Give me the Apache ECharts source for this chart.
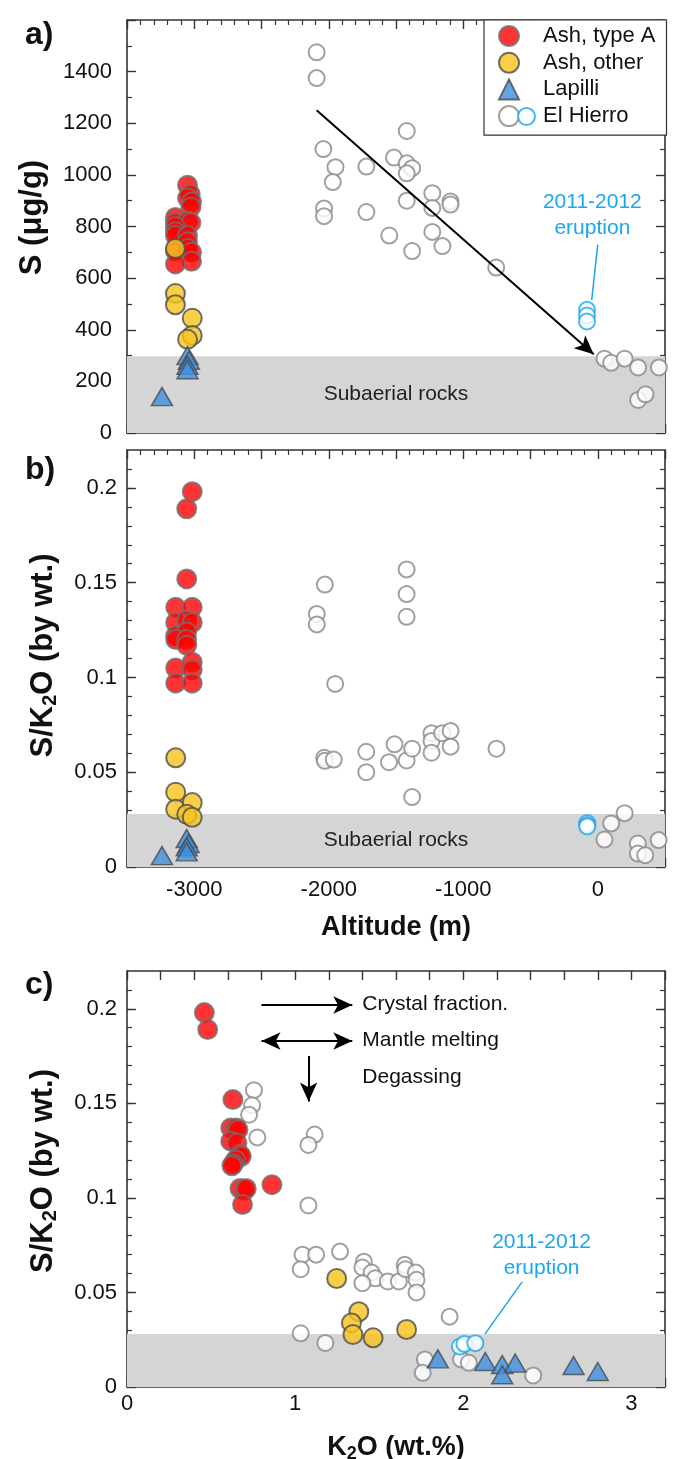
<!DOCTYPE html>
<html>
<head>
<meta charset="utf-8">
<title>S and S/K2O vs altitude and K2O</title>
<script src="https://cdn.jsdelivr.net/npm/echarts@6/dist/echarts.min.js"></script>
<style>
  html, body { margin: 0; padding: 0; background: #fff; }
  #chart { width: 674px; height: 1459px; }
</style>
</head>
<body>
<div id="chart"></div>
<script>
// ---- data: [x, y] pairs ----
// panel a: altitude (m) vs S (ug/g)
const ashA_S = [[-3050, 960], [-3030, 925], [-3050, 910], [-3020, 895], [-3025, 875], [-3140, 835], [-3140, 815], [-3050, 820], [-3025, 815], [-3140, 800], [-3140, 780], [-3140, 765], [-3050, 765], [-3050, 740], [-3050, 715], [-3140, 705], [-3020, 700], [-3020, 665], [-3140, 655]]
const ashOther_S = [[-3140, 715], [-3140, 540], [-3140, 497], [-3015, 445], [-3015, 378], [-3050, 363]]
const lapilli_S = [[-3240, 141], [-3050, 300], [-3040, 282], [-3050, 262], [-3050, 245]]
const hierro_S = [[-2090, 1475], [-2090, 1375], [-2040, 1100], [-1950, 1030], [-1970, 972], [-2035, 870], [-2035, 840], [-1720, 1032], [-1720, 856], [-1515, 1067], [-1420, 1170], [-1420, 1045], [-1380, 1026], [-1420, 1006], [-1420, 900], [-1550, 765], [-1380, 705], [-1230, 929], [-1230, 872], [-1230, 779], [-1155, 724], [-1095, 897], [-1095, 885], [-755, 641], [50, 288], [100, 272], [200, 288], [300, 254], [455, 254], [300, 128], [355, 150]]
const hierro2011_S = [[-80, 477], [-80, 455], [-80, 432]]

// panel b: altitude (m) vs S/K2O
const ashA_R = [[-3015, 0.198], [-3056, 0.189], [-3056, 0.152], [-3138, 0.137], [-3015, 0.137], [-3138, 0.129], [-3056, 0.130], [-3015, 0.129], [-3138, 0.122], [-3056, 0.124], [-3138, 0.120], [-3056, 0.120], [-3056, 0.117], [-3015, 0.108], [-3138, 0.105], [-3015, 0.104], [-3138, 0.097], [-3015, 0.097]]
const ashOther_R = [[-3138, 0.0576], [-3138, 0.0395], [-3138, 0.0305], [-3015, 0.034], [-3056, 0.0278], [-3015, 0.0262]]
const lapilli_R = [[-3240, 0.006], [-3056, 0.015], [-3042, 0.0124], [-3056, 0.0106], [-3056, 0.008]]
const hierro_R = [[-2029, 0.149], [-2089, 0.1335], [-2089, 0.128], [-1421, 0.157], [-1421, 0.144], [-1421, 0.132], [-1952, 0.0966], [-2034, 0.0576], [-2029, 0.056], [-1963, 0.0567], [-1721, 0.0608], [-1721, 0.050], [-1552, 0.0553], [-1511, 0.0647], [-1421, 0.0562], [-1380, 0.0624], [-1380, 0.0369], [-1236, 0.0706], [-1236, 0.0665], [-1236, 0.0603], [-1157, 0.0706], [-1094, 0.0718], [-1094, 0.0635], [-753, 0.0624], [50, 0.0145], [100, 0.023], [200, 0.0284], [298, 0.0124], [298, 0.0071], [353, 0.0062], [453, 0.0142]]
const hierro2011_R = [[-78, 0.0232], [-78, 0.0222], [-78, 0.0214]]

// panel c: K2O (wt.%) vs S/K2O
const ashA_K = [[0.46, 0.198], [0.48, 0.189], [0.63, 0.152], [0.617, 0.137], [0.65, 0.137], [0.66, 0.136], [0.617, 0.130], [0.654, 0.129], [0.672, 0.123], [0.68, 0.122], [0.645, 0.120], [0.632, 0.118], [0.624, 0.117], [0.672, 0.105], [0.70, 0.104], [0.709, 0.105], [0.862, 0.107], [0.687, 0.0965]]
const ashOther_K = [[1.247, 0.0574], [1.379, 0.0398], [1.335, 0.0339], [1.344, 0.0277], [1.464, 0.026], [1.663, 0.0304]]
const lapilli_K = [[1.849, 0.0149], [2.131, 0.0135], [2.232, 0.0119], [2.232, 0.0065], [2.309, 0.0126], [2.656, 0.0114], [2.8, 0.0082]]
const hierro_K = [[0.755, 0.157], [0.744, 0.149], [0.726, 0.144], [0.775, 0.132], [1.116, 0.1335], [1.079, 0.128], [1.079, 0.096], [1.044, 0.070], [1.125, 0.070], [1.033, 0.0623], [1.267, 0.0716], [1.409, 0.0663], [1.40, 0.0632], [1.455, 0.0605], [1.477, 0.0575], [1.40, 0.0549], [1.551, 0.0558], [1.617, 0.0558], [1.652, 0.0646], [1.656, 0.0623], [1.718, 0.0605], [1.722, 0.0567], [1.722, 0.050], [1.919, 0.0372], [1.033, 0.0284], [1.18, 0.0233], [1.772, 0.0146], [1.759, 0.0075], [1.987, 0.0146], [2.033, 0.0128], [2.416, 0.0061]]
const hierro2011_K = [[1.98, 0.0214], [2.007, 0.0228], [2.072, 0.0232]]

// axis tick labels and band limits
const altLabels = [-3000, -2000, -1000, 0]
const sLabels = [0, 200, 400, 600, 800, 1000, 1200, 1400]
const ratioLabels = [0, 0.05, 0.1, 0.15, 0.2]
const k2oLabels = [0, 1, 2, 3]
const subaerialS = 297
const subaerialRatio = 0.028

const font = 'Liberation Sans, Arial, sans-serif'
const axisColor = '#333'
const eruptionBlue = '#1aa7ee'

const altCfg = { min: -3500, max: 500, interval: 500, minor: 5, labels: altLabels }
const sCfg = { min: 0, max: 1600, interval: 200, minor: 2, labels: sLabels }
const ratioCfg = { min: 0, max: 0.22, interval: 0.22, minor: 22, major: ratioLabels, labels: ratioLabels }
const k2oCfg = { min: 0, max: 3.2, interval: 0.2, minor: 0, labels: k2oLabels }

const makeAxis = (gridIndex, position, cfg, extra) => Object.assign({
  type: 'value',
  gridIndex: gridIndex,
  position: position,
  min: cfg.min,
  max: cfg.max,
  interval: cfg.interval,
  axisLine: { show: true, onZero: false, lineStyle: { color: axisColor, width: 1.6 } },
  axisTick: { show: true, inside: true, length: 9, customValues: cfg.major, lineStyle: { color: axisColor, width: 1.4 } },
  minorTick: { show: cfg.minor > 0, splitNumber: cfg.minor || 5, length: 5, lineStyle: { color: axisColor, width: 1.2 } },
  splitLine: { show: false },
  axisLabel: { show: false },
}, extra || {})

// tick labels: plain numbers, no thousands separator
const labelsFor = (cfg, margin) => ({
  show: true, customValues: cfg.labels, formatter: v => String(v),
  fontSize: 22, color: '#111', fontFamily: font, margin: margin,
})

const titleStyle = (size, shift) => ({
  fontSize: size, fontWeight: 'bold', color: '#111', fontFamily: font,
  padding: [0, 0, 0, shift || 0],
  rich: { s: { fontSize: Math.round(size * 0.66), fontWeight: 'bold', color: '#111', fontFamily: font, padding: [Math.round(size * 0.45), 0, 0, 0] } },
})

const xAxes = [
  makeAxis(0, 'bottom', altCfg),
  makeAxis(0, 'top', altCfg),
  makeAxis(1, 'bottom', altCfg, {
    axisLabel: labelsFor(altCfg, 12),
    name: 'Altitude (m)', nameLocation: 'middle', nameGap: 47, nameTextStyle: titleStyle(27),
  }),
  makeAxis(1, 'top', altCfg),
  makeAxis(2, 'bottom', k2oCfg, {
    axisLabel: labelsFor(k2oCfg, 6),
    name: 'K{s|2}O (wt.%)', nameLocation: 'middle', nameGap: 46, nameTextStyle: titleStyle(27),
  }),
  makeAxis(2, 'top', k2oCfg),
]

const yAxes = [
  makeAxis(0, 'left', sCfg, {
    axisLabel: labelsFor(sCfg, 15),
    name: 'S (μg/g)', nameLocation: 'middle', nameGap: 79, nameTextStyle: titleStyle(31, 18),
  }),
  makeAxis(0, 'right', sCfg),
  makeAxis(1, 'left', ratioCfg, {
    axisLabel: labelsFor(ratioCfg, 10),
    name: 'S/K{s|2}O (by wt.)', nameLocation: 'middle', nameGap: 67, nameTextStyle: titleStyle(31, 6),
  }),
  makeAxis(1, 'right', ratioCfg),
  makeAxis(2, 'left', ratioCfg, {
    axisLabel: labelsFor(ratioCfg, 10),
    name: 'S/K{s|2}O (by wt.)', nameLocation: 'middle', nameGap: 67, nameTextStyle: titleStyle(31, 16),
  }),
  makeAxis(2, 'right', ratioCfg),
]

const styles = {
  ashA: { symbol: 'circle', symbolSize: 19, itemStyle: { color: '#ff0000', borderColor: '#707070', borderWidth: 2 } },
  ashOther: { symbol: 'circle', symbolSize: 19, itemStyle: { color: '#f7c31d', borderColor: '#4d4d4d', borderWidth: 2 } },
  lapilli: { symbol: 'triangle', symbolSize: [21, 18], itemStyle: { color: '#3d8ee0', borderColor: '#4a4a4a', borderWidth: 1.5 } },
  hierro: { symbol: 'circle', symbolSize: 16, itemStyle: { color: '#fff', borderColor: '#888', borderWidth: 2 } },
  hierro2011: { symbol: 'circle', symbolSize: 16, itemStyle: { color: '#fff', borderColor: eruptionBlue, borderWidth: 2 } },
}

const pointSeries = (name, style, data, axisIndex) => Object.assign({
  name: name, type: 'scatter', data: data, z: 3,
  xAxisIndex: axisIndex, yAxisIndex: axisIndex,
}, style)

const lineSeg = (a, b, startSym, endSym) => [
  { coord: a, symbol: startSym || 'none', symbolSize: [13, 19] },
  { coord: b, symbol: endSym || 'none', symbolSize: [13, 19] },
]

const textAt = (coord, text, position, color) => ({
  coord: coord, symbol: 'circle', symbolSize: 0,
  label: { show: true, position: position, formatter: text, color: color || '#111', fontSize: 21, lineHeight: 26, fontFamily: font },
})

// background band + arrows + notes, one helper series per panel (under the points)
const notesSeries = (axisIndex, bandTop, xr, bandLabel, arrows, leaders, texts) => ({
  type: 'scatter', data: [], z: 1, silent: true,
  xAxisIndex: axisIndex, yAxisIndex: axisIndex,
  markArea: {
    silent: true,
    itemStyle: { color: '#d5d5d5' },
    label: { show: !!bandLabel, position: 'inside', formatter: bandLabel, color: '#222', fontSize: 21, fontFamily: font },
    data: [[{ xAxis: xr[0], yAxis: 0 }, { xAxis: xr[1], yAxis: bandTop }]],
  },
  markLine: {
    silent: true, animation: false,
    label: { show: false },
    lineStyle: { color: '#000', width: 2, type: 'solid' },
    data: arrows.concat(leaders.map(seg => seg.map(p => Object.assign({}, p, { lineStyle: { color: eruptionBlue, width: 1.5, type: 'solid' } })))),
  },
  markPoint: { silent: true, animation: false, data: texts },
})

const series = [
  notesSeries(0, subaerialS, [altCfg.min, altCfg.max], 'Subaerial rocks',
    [lineSeg([-2090, 1250], [-30, 305], 'none', 'arrow')],
    [lineSeg([0, 730], [-45, 515])],
    [textAt([-40, 845], '2011-2012\neruption', 'inside', eruptionBlue)]),
  pointSeries('El Hierro', styles.hierro, hierro_S, 0),
  pointSeries('El Hierro 2011-2012', styles.hierro2011, hierro2011_S, 0),
  pointSeries('Ash, type A', styles.ashA, ashA_S, 0),
  pointSeries('Ash, other', styles.ashOther, ashOther_S, 0),
  pointSeries('Lapilli', styles.lapilli, lapilli_S, 0),

  notesSeries(2, subaerialRatio, [altCfg.min, altCfg.max], 'Subaerial rocks', [], [], []),
  pointSeries('El Hierro', styles.hierro, hierro_R, 2),
  pointSeries('El Hierro 2011-2012', styles.hierro2011, hierro2011_R, 2),
  pointSeries('Ash, type A', styles.ashA, ashA_R, 2),
  pointSeries('Ash, other', styles.ashOther, ashOther_R, 2),
  pointSeries('Lapilli', styles.lapilli, lapilli_R, 2),

  notesSeries(4, subaerialRatio, [k2oCfg.min, k2oCfg.max], '',
    [
      lineSeg([0.80, 0.202], [1.34, 0.202], 'none', 'arrow'),
      lineSeg([0.80, 0.183], [1.34, 0.183], 'arrow', 'arrow'),
      lineSeg([1.08, 0.175], [1.08, 0.151], 'none', 'arrow'),
    ],
    [lineSeg([2.35, 0.0556], [2.13, 0.0281])],
    [
      textAt([1.37, 0.2025], 'Crystal fraction.', 'right'),
      textAt([1.37, 0.1835], 'Mantle melting', 'right'),
      textAt([1.37, 0.164], 'Degassing', 'right'),
      textAt([2.466, 0.0695], '2011-2012\neruption', 'inside', eruptionBlue),
    ]),
  pointSeries('El Hierro', styles.hierro, hierro_K, 4),
  pointSeries('El Hierro 2011-2012', styles.hierro2011, hierro2011_K, 4),
  pointSeries('Ash, type A', styles.ashA, ashA_K, 4),
  pointSeries('Ash, other', styles.ashOther, ashOther_K, 4),
  pointSeries('Lapilli', styles.lapilli, lapilli_K, 4),
]

const panelLabel = (text, top) => ({
  text: text, left: 20, top: top,
  textStyle: { fontSize: 32, fontWeight: 'bold', color: '#111', fontFamily: font },
})

const option = {
  animation: false,
  backgroundColor: '#fff',
  title: [panelLabel('a)', 14), panelLabel('b)', 449), panelLabel('c)', 964)],
  grid: [
    { left: 127, right: 9, top: 20, height: 413, outerBoundsMode: 'none' },
    { left: 127, right: 9, top: 450, height: 417, outerBoundsMode: 'none' },
    { left: 127, right: 9, top: 971, height: 416, outerBoundsMode: 'none' },
  ],
  xAxis: xAxes,
  yAxis: yAxes,
  legend: [
    {
      data: ['Ash, type A', 'Ash, other', 'Lapilli', 'El Hierro'],
      orient: 'vertical',
      left: 484, top: 20,
      padding: [5, 11, 8, 14],
      itemGap: 4.7,
      itemWidth: 20, itemHeight: 20,
      borderColor: '#333', borderWidth: 1.2,
      backgroundColor: '#fff',
      selectedMode: false,
      textStyle: { fontSize: 22, lineHeight: 22, color: '#111', fontFamily: font, padding: [0, 0, 0, 19] },
    },
    {
      // second (blue) El Hierro symbol drawn next to the grey one
      data: ['El Hierro 2011-2012'],
      left: 517, top: 107,
      padding: 0,
      itemWidth: 17, itemHeight: 17,
      selectedMode: false,
      formatter: () => ' ',
      textStyle: { fontSize: 4 },
    },
  ],
  series: series,
}

const chart = echarts.init(document.getElementById('chart'), null, { renderer: 'canvas' })
chart.setOption(option)
</script>
</body>
</html>
